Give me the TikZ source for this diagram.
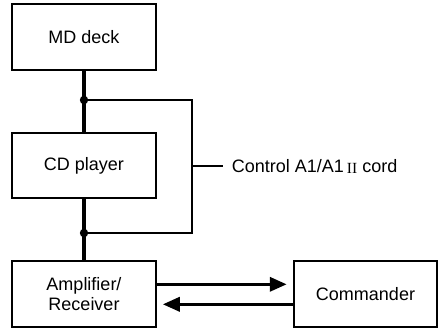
\documentclass[tikz,border=0pt]{standalone}
\usepackage{fontspec}
\setmainfont{Liberation Sans}
\newfontfamily\romanII{Liberation Serif}
\usetikzlibrary{arrows.meta}

\tikzset{
    unit/.style={draw, line width=2bp, minimum width=143.5bp, minimum height=65.5bp,
        inner sep=0pt, align=center, font=\fontsize{18bp}{20bp}\selectfont},
    link/.style={line width=3.2bp},
    cord/.style={line width=1.8bp},
    signal/.style={line width=3.5bp, -{Triangle[length=17bp, width=14bp]}, shorten >=6bp}
}

\begin{document}
\begin{tikzpicture}[x=1bp, y=-1bp]
        \useasboundingbox (0,0) rectangle (438,329);
        \node[unit] (md) at (84,37) {MD deck};
        \node[unit] (cd) at (84,165.5) {CD player};
        \node[unit] (amp) at (84,294) {Amplifier/\\Receiver};
        \node[unit] (cmd) at (365.5,294) {Commander};
        \coordinate (j1) at (84,100);
        \coordinate (j2) at (84,233);
        \coordinate (c1) at (192,100);
        \coordinate (c2) at (192,233);
        \coordinate (t) at (192,166);
        \draw[link] (md) -- (j1) -- (cd);
        \draw[link] (cd) -- (j2) -- (amp);
        \draw[cord] (j1) -- (c1) -- (c2) -- (j2);
        \draw[cord] (t) -- ++(31,0) node[right=8bp, inner sep=0pt, font=\fontsize{18bp}{21bp}\selectfont] (lbl)
            {Control A1/A1\,\raisebox{-1bp}{\romanII\fontsize{15.5bp}{17bp}\selectfont II} cord};
        \fill (j1) circle (4.2bp);
        \fill (j2) circle (4.2bp);
        \draw[signal] ([yshift=9.7bp]amp.east) -- ([yshift=9.7bp]cmd.west);
        \draw[signal] ([yshift=-10.3bp]cmd.west) -- ([yshift=-10.3bp]amp.east);
\end{tikzpicture}
\end{document}
